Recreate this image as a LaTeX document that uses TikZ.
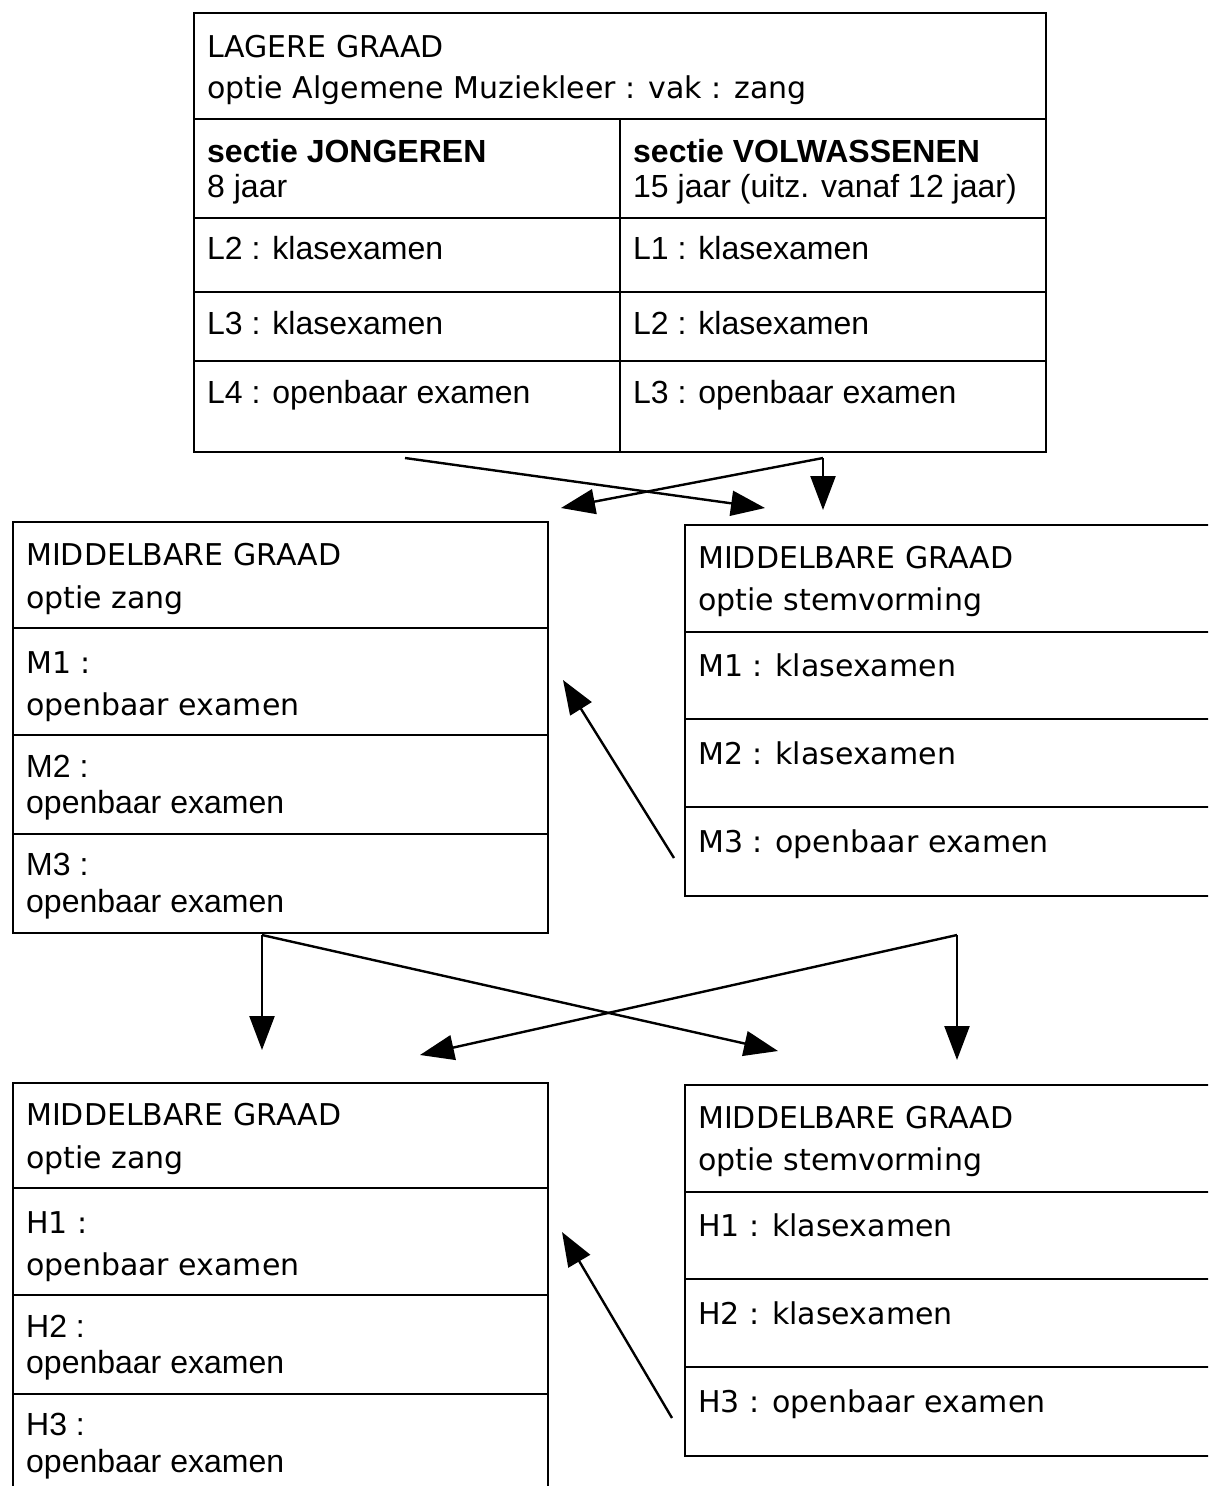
\documentclass[tikz,border=0pt]{standalone}
\usepackage{fontspec}
\setmainfont{Liberation Sans}
\newfontfamily\lucida{DejaVu Sans}
\usetikzlibrary{arrows.meta}
\begin{document}
\begin{tikzpicture}[x=1pt,y=-1pt,
  frame/.style={draw, line width=2.6pt, outer sep=0pt, inner sep=0pt, anchor=north west, rectangle},
  rule/.style={line width=2.6pt},
  conn/.style={line width=2.4pt, -{Triangle[length=34pt,width=25pt]}},
  plain/.style={line width=2.4pt},
  luc/.style={anchor=base west, inner sep=0pt, font=\lucida\fontsize{30}{36}\selectfont},
  ari/.style={anchor=base west, inner sep=0pt, font=\fontsize{32}{38}\selectfont},
  arib/.style={anchor=base west, inner sep=0pt, font=\bfseries\fontsize{32}{38}\selectfont}]
\path[use as bounding box] (0,0) rectangle (1208,1486);
\clip (0,0) rectangle (1208,1486);

% ---------- top table ----------
\node[frame, minimum width=852pt, minimum height=439pt] (lagere) at (194,13) {};
\draw[rule] (194,119) -- (1046,119);
\draw[rule] (194,218) -- (1046,218);
\draw[rule] (194,292) -- (1046,292);
\draw[rule] (194,361) -- (1046,361);
\draw[rule] (620,119) -- (620,452);
\node[luc] (t1) at (207,57) {LAGERE GRAAD};
\node[luc] (t2) at (207,98) {optie Algemene Muziekleer : vak : zang};
\node[arib] (t3) at (207,162) {sectie JONGEREN};
\node[ari] (t4) at (207,197) {8 jaar};
\node[arib] (t5) at (633,162) {sectie VOLWASSENEN};
\node[ari] (t6) at (633,197) {15 jaar (uitz. vanaf 12 jaar)};
\node[ari] (t7) at (207,259) {L2 : klasexamen};
\node[ari] (t8) at (633,259) {L1 : klasexamen};
\node[ari] (t9) at (207,334) {L3 : klasexamen};
\node[ari] (t10) at (633,334) {L2 : klasexamen};
\node[ari] (t11) at (207,403) {L4 : openbaar examen};
\node[ari] (t12) at (633,403) {L3 : openbaar examen};

% ---------- middle left ----------
\node[frame, minimum width=535pt, minimum height=411pt] (mz) at (13,522) {};
\draw[rule] (13,628) -- (548,628);
\draw[rule] (13,735) -- (548,735);
\draw[rule] (13,834) -- (548,834);
\node[luc] (mz1) at (26,565) {MIDDELBARE GRAAD};
\node[luc] (mz2) at (26,608) {optie zang};
\node[luc] (mz3) at (26,673) {M1 :};
\node[luc] (mz4) at (26,715) {openbaar examen};
\node[ari] (mz5) at (26,777) {M2 :};
\node[ari] (mz6) at (26,813) {openbaar examen};
\node[ari] (mz7) at (26,875) {M3 :};
\node[ari] (mz8) at (26,912) {openbaar examen};

% ---------- middle right ----------
\node[frame, minimum width=540pt, minimum height=371pt] (ms) at (685,525) {};
\draw[rule] (685,632) -- (1225,632);
\draw[rule] (685,719) -- (1225,719);
\draw[rule] (685,807) -- (1225,807);
\node[luc] (ms1) at (698,568) {MIDDELBARE GRAAD};
\node[luc] (ms2) at (698,610) {optie stemvorming};
\node[luc] (ms3) at (698,676) {M1 : klasexamen};
\node[luc] (ms4) at (698,764) {M2 : klasexamen};
\node[luc] (ms5) at (698,852) {M3 : openbaar examen};

% ---------- bottom left ----------
\node[frame, minimum width=535pt, minimum height=430pt] (hz) at (13,1083) {};
\draw[rule] (13,1188) -- (548,1188);
\draw[rule] (13,1295) -- (548,1295);
\draw[rule] (13,1394) -- (548,1394);
\node[luc] (hz1) at (26,1125) {MIDDELBARE GRAAD};
\node[luc] (hz2) at (26,1168) {optie zang};
\node[luc] (hz3) at (26,1233) {H1 :};
\node[luc] (hz4) at (26,1275) {openbaar examen};
\node[ari] (hz5) at (26,1337) {H2 :};
\node[ari] (hz6) at (26,1373) {openbaar examen};
\node[ari] (hz7) at (26,1435) {H3 :};
\node[ari] (hz8) at (26,1472) {openbaar examen};

% ---------- bottom right ----------
\node[frame, minimum width=540pt, minimum height=371pt] (hs) at (685,1085) {};
\draw[rule] (685,1192) -- (1225,1192);
\draw[rule] (685,1279) -- (1225,1279);
\draw[rule] (685,1367) -- (1225,1367);
\node[luc] (hs1) at (698,1128) {MIDDELBARE GRAAD};
\node[luc] (hs2) at (698,1170) {optie stemvorming};
\node[luc] (hs3) at (698,1236) {H1 : klasexamen};
\node[luc] (hs4) at (698,1324) {H2 : klasexamen};
\node[luc] (hs5) at (698,1412) {H3 : openbaar examen};

% ---------- connectors ----------
\coordinate (a1s) at (405,458);
\coordinate (a1e) at (765,508);
\coordinate (a2s) at (823,458);
\coordinate (a2e) at (561,508);
\coordinate (a3e) at (823,510);
\draw[conn] (a1s) -- (a1e);
\draw[conn] (a2s) -- (a2e);
\draw[conn] (a2s) -- (a3e);

\coordinate (bms) at (674,858);
\coordinate (bme) at (563,680);
\draw[conn] (bms) -- (bme);

\coordinate (c1s) at (262,935);
\coordinate (c1e) at (262,1050);
\coordinate (c2e) at (778,1051);
\coordinate (c3s) at (957,935);
\coordinate (c3e) at (957,1060);
\coordinate (c4e) at (420,1055);
\draw[conn] (c1s) -- (c1e);
\draw[conn] (c1s) -- (c2e);
\draw[conn] (c3s) -- (c3e);
\draw[conn] (c3s) -- (c4e);

\coordinate (bhs) at (672,1418);
\coordinate (bhe) at (562,1232);
\draw[conn] (bhs) -- (bhe);
\end{tikzpicture}
\end{document}
